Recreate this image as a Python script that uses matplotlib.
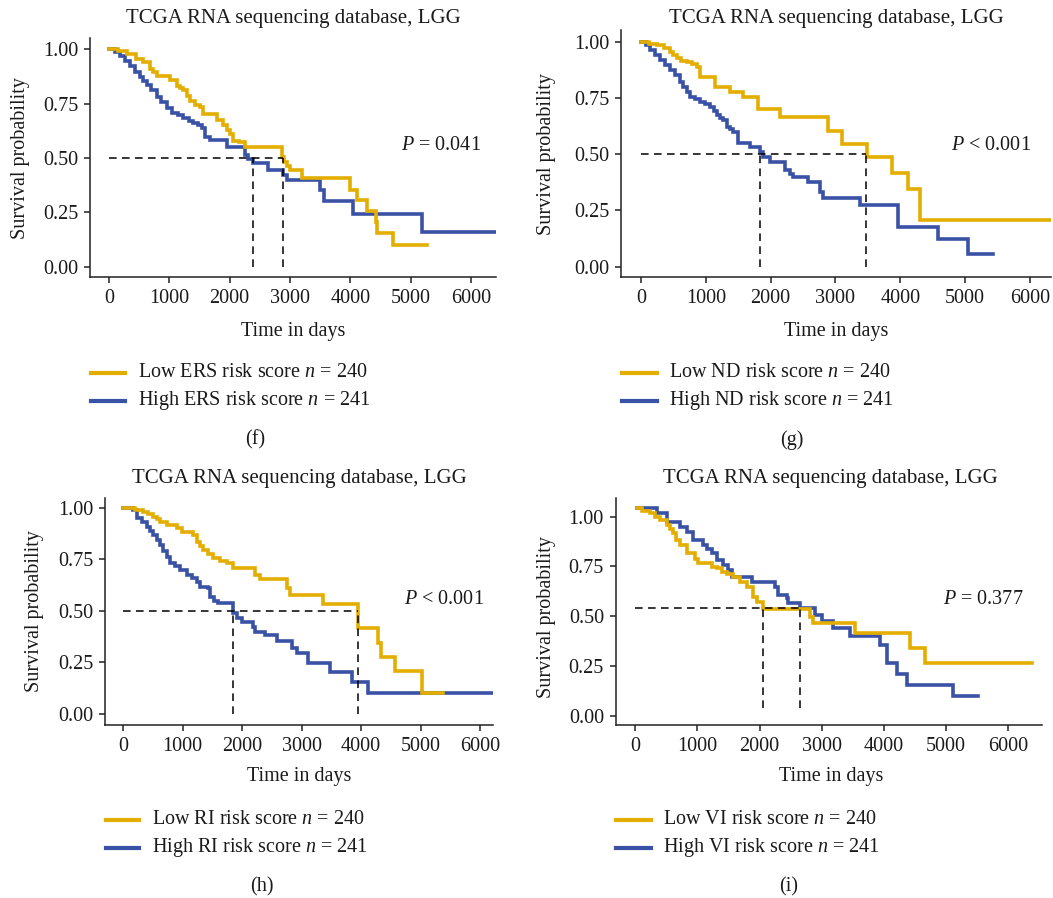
import matplotlib
matplotlib.use("Agg")
import matplotlib.pyplot as plt
from matplotlib.lines import Line2D

plt.rcParams['font.family'] = ['Liberation Serif', 'DejaVu Serif']
plt.rcParams['mathtext.fontset'] = 'custom'
plt.rcParams['mathtext.rm'] = 'Liberation Serif'
plt.rcParams['mathtext.it'] = 'Liberation Serif:italic'

YELLOW = '#E3AE00'
BLUE = '#3A52A5'
TXT = '#1a1a1a'

W, H = 1053, 898
FS = 14.5
FS_TITLE = 15

# ---------------- data ----------------
# panel (f) ERS
f_low_t = [0, 150, 300, 450, 570, 680, 735, 790, 1011, 1122, 1180, 1232, 1300, 1343, 1420, 1508, 1560, 1785, 1895, 1950, 2000, 2061, 2150, 2254, 2862, 2900, 2950, 3000, 3193, 3994, 4105, 4271, 4420, 4450, 4713, 5265]
f_low_s = [1.0, 0.99, 0.975, 0.955, 0.94, 0.91, 0.896, 0.876, 0.858, 0.83, 0.82, 0.81, 0.785, 0.76, 0.745, 0.735, 0.70, 0.675, 0.65, 0.63, 0.61, 0.58, 0.575, 0.552, 0.506, 0.48, 0.465, 0.445, 0.407, 0.353, 0.307, 0.257, 0.208, 0.154, 0.10, 0.10]
f_high_t = [0, 100, 182, 260, 348, 430, 514, 570, 624, 700, 790, 870, 956, 1039, 1140, 1232, 1320, 1398, 1470, 1536, 1591, 1674, 1950, 2254, 2300, 2392, 2641, 2890, 2950, 3497, 3564, 4050, 5182, 6453]
f_high_s = [1.0, 0.985, 0.97, 0.945, 0.92, 0.895, 0.873, 0.855, 0.835, 0.81, 0.78, 0.755, 0.728, 0.705, 0.695, 0.682, 0.672, 0.662, 0.65, 0.636, 0.598, 0.583, 0.552, 0.514, 0.495, 0.475, 0.445, 0.422, 0.40, 0.353, 0.304, 0.243, 0.162, 0.162]
f_medians = [2381, 2878]
f_median_level = 0.5
f_median_floor = 0.0

# panel (g) ND
g_low_t = [0, 120, 242, 350, 447, 500, 550, 620, 704, 780, 859, 910, 1141, 1373, 1578, 1810, 2144, 2889, 3095, 3481, 3866, 4123, 4303, 6308]
g_low_s = [1.0, 0.99, 0.985, 0.97, 0.955, 0.94, 0.926, 0.915, 0.91, 0.9, 0.889, 0.845, 0.80, 0.778, 0.756, 0.70, 0.667, 0.603, 0.545, 0.486, 0.418, 0.344, 0.207, 0.207]
g_high_t = [0, 70, 139, 220, 293, 370, 447, 520, 601, 650, 704, 756, 830, 910, 990, 1064, 1120, 1167, 1220, 1270, 1321, 1380, 1424, 1501, 1681, 1835, 1887, 1990, 2221, 2300, 2350, 2581, 2761, 2812, 3378, 3969, 4586, 5049, 5434]
g_high_s = [1.0, 0.985, 0.963, 0.94, 0.918, 0.895, 0.874, 0.85, 0.822, 0.80, 0.778, 0.756, 0.745, 0.733, 0.722, 0.711, 0.69, 0.674, 0.662, 0.652, 0.622, 0.61, 0.60, 0.548, 0.533, 0.511, 0.489, 0.467, 0.43, 0.41, 0.397, 0.378, 0.333, 0.304, 0.274, 0.178, 0.121, 0.056, 0.056]
g_medians = [1835, 3465]
g_median_level = 0.5
g_median_floor = 0.0

# panel (h) RI
h_low_t = [0, 200, 336, 420, 505, 560, 617, 729, 897, 981, 1178, 1234, 1290, 1346, 1430, 1514, 1620, 1738, 1851, 2215, 2299, 2748, 2804, 3365, 3953, 4290, 4329, 4570, 5030, 5383]
h_low_s = [1.0, 0.99, 0.98, 0.97, 0.956, 0.945, 0.932, 0.916, 0.90, 0.884, 0.868, 0.835, 0.815, 0.795, 0.775, 0.754, 0.74, 0.73, 0.706, 0.674, 0.653, 0.609, 0.577, 0.531, 0.415, 0.342, 0.275, 0.208, 0.10, 0.10]
h_high_t = [0, 168, 224, 310, 393, 450, 505, 560, 617, 670, 729, 785, 870, 953, 1065, 1150, 1234, 1290, 1430, 1458, 1530, 1598, 1851, 1920, 1991, 2187, 2210, 2383, 2579, 2832, 2916, 3112, 3477, 3852, 4110, 6253]
h_high_s = [1.0, 0.989, 0.948, 0.928, 0.908, 0.888, 0.868, 0.845, 0.819, 0.79, 0.763, 0.73, 0.715, 0.698, 0.674, 0.657, 0.641, 0.617, 0.609, 0.569, 0.55, 0.536, 0.488, 0.465, 0.444, 0.423, 0.399, 0.383, 0.354, 0.318, 0.294, 0.249, 0.202, 0.157, 0.10, 0.10]
h_medians = [1851, 3953]
h_median_level = 0.5
h_median_floor = 0.0

# panel (i) VI
i_low_t = [30, 100, 236, 320, 397, 504, 560, 611, 660, 718, 826, 960, 1013, 1228, 1308, 1400, 1469, 1576, 1684, 1791, 1898, 1952, 2059, 2810, 2863, 3534, 4418, 4660, 6375]
i_low_s = [1.042, 1.03, 1.017, 1.0, 0.983, 0.958, 0.94, 0.916, 0.885, 0.858, 0.816, 0.79, 0.766, 0.749, 0.74, 0.724, 0.71, 0.699, 0.674, 0.649, 0.599, 0.574, 0.535, 0.498, 0.465, 0.415, 0.339, 0.268, 0.268]
i_high_t = [30, 343, 504, 718, 826, 933, 1094, 1147, 1228, 1308, 1415, 1496, 1550, 1871, 2247, 2300, 2434, 2460, 2649, 2890, 2997, 3185, 3453, 3936, 4043, 4204, 4365, 5115, 5517]
i_high_s = [1.042, 1.017, 0.975, 0.95, 0.925, 0.883, 0.858, 0.84, 0.816, 0.783, 0.757, 0.732, 0.699, 0.674, 0.649, 0.607, 0.59, 0.569, 0.54, 0.507, 0.477, 0.44, 0.401, 0.356, 0.268, 0.209, 0.156, 0.10, 0.10]
i_medians = [2048, 2649]
i_median_level = 0.543
i_median_floor = 0.042

titles = ["TCGA RNA sequencing database, LGG"] * 4
groups = ["ERS", "ND", "RI", "VI"]
n_low, n_high = 240, 241
pvals = [r"$P$ = 0.041", r"$P$ < 0.001", r"$P$ < 0.001", r"$P$ = 0.377"]
panel_tags = ["(f)", "(g)", "(h)", "(i)"]
xticks = [0, 1000, 2000, 3000, 4000, 5000, 6000]
yticks = [0.0, 0.25, 0.5, 0.75, 1.0]
ytick_labels = ["0.00", "0.25", "0.50", "0.75", "1.00"]

# ---------------- layout (pixels) ----------------
panels = [
    dict(low=(f_low_t, f_low_s), high=(f_high_t, f_high_s), med=f_medians, lvl=f_median_level, floor=f_median_floor,
         box=(90, 38, 495.7, 277), xlim=(-315, 6410), ylim=(-0.0459, 1.0505),
         title=(293.3, 18.3), ylab=(21, 158.5), xlab=(293, 331.7), pv=(441, 145.7),
         leg=(90.7, 125, 137.7, 372.7, 400.7), tag=(255, 440)),
    dict(low=(g_low_t, g_low_s), high=(g_high_t, g_high_s), med=g_medians, lvl=g_median_level, floor=g_median_floor,
         box=(621, 30, 1050.7, 277), xlim=(-308.5, 6320), ylim=(-0.046, 1.052),
         title=(836.7, 18.3), ylab=(546, 154), xlab=(836.5, 331.7), pv=(991, 145.7),
         leg=(622.3, 656.7, 669, 372.7, 400.7), tag=(792, 440)),
    dict(low=(h_low_t, h_low_s), high=(h_high_t, h_high_s), med=h_medians, lvl=h_median_level, floor=h_median_floor,
         box=(105, 497.7, 492.7, 725), xlim=(-308, 6214), ylim=(-0.053, 1.048),
         title=(299.2, 478.3), ylab=(35, 610.8), xlab=(299, 777), pv=(444, 600),
         leg=(105.7, 139.3, 152.3, 820, 847.7), tag=(261.7, 886.7)),
    dict(low=(i_low_t, i_low_s), high=(i_high_t, i_high_s), med=i_medians, lvl=i_median_level, floor=i_median_floor,
         box=(615.7, 498.3, 1041.7, 725), xlim=(-315, 6537), ylim=(-0.045, 1.092),
         title=(830.8, 478.3), ylab=(546, 616.7), xlab=(830.7, 777), pv=(983, 600),
         leg=(616, 650.7, 663.3, 820, 847.7), tag=(788.3, 886.7)),
]

fig = plt.figure(figsize=(W / 100, H / 100), dpi=100)


def fx(px):
    return px / W


def fy(py):
    return 1 - py / H


for k, p in enumerate(panels):
    l, t, r, b = p['box']
    ax = fig.add_axes([fx(l), fy(b), (r - l) / W, (b - t) / H])
    lo_t, lo_s = p['low']
    hi_t, hi_s = p['high']
    ax.step(hi_t, hi_s, where='post', color=BLUE, lw=2.6, solid_joinstyle='miter', zorder=3)
    ax.step(lo_t, lo_s, where='post', color=YELLOW, lw=2.6, solid_joinstyle='miter', zorder=3)
    # median lines
    ax.plot([0, max(p['med'])], [p['lvl'], p['lvl']], color='black', lw=1.1, ls=(0, (5, 3.5)), zorder=4)
    for m in p['med']:
        ax.plot([m, m], [p['floor'], p['lvl']], color='black', lw=1.1, ls=(0, (5, 3.5)), zorder=4)
    ax.set_xlim(*p['xlim'])
    ax.set_ylim(*p['ylim'])
    ax.set_xticks(xticks)
    ax.set_xticklabels([str(v) for v in xticks])
    ax.set_yticks(yticks)
    ax.set_yticklabels(ytick_labels)
    for s in ['top', 'right']:
        ax.spines[s].set_visible(False)
    for s in ['left', 'bottom']:
        ax.spines[s].set_linewidth(1.1)
        ax.spines[s].set_color('#222222')
    ax.tick_params(axis='both', labelsize=FS, colors='#222222', labelcolor=TXT, width=1.1, length=4.5, pad=4)
    ax.patch.set_alpha(0)

    fig.text(fx(p['title'][0]), fy(p['title'][1]), titles[k], ha='center', va='center', fontsize=FS_TITLE, color=TXT)
    fig.text(fx(p['ylab'][0]), fy(p['ylab'][1]), "Survival probability", rotation=90, ha='center', va='center',
             fontsize=FS, color=TXT)
    fig.text(fx(p['xlab'][0]), fy(p['xlab'][1]), "Time in days", ha='center', va='center', fontsize=FS, color=TXT)
    fig.text(fx(p['pv'][0]), fy(p['pv'][1]), pvals[k], ha='center', va='center', fontsize=FS, color=TXT)
    x0, x1, xt, y1, y2 = p['leg']
    fig.add_artist(Line2D([fx(x0), fx(x1)], [fy(y1), fy(y1)], color=YELLOW, lw=3.0, transform=fig.transFigure))
    fig.add_artist(Line2D([fx(x0), fx(x1)], [fy(y2), fy(y2)], color=BLUE, lw=3.0, transform=fig.transFigure))
    fig.text(fx(xt), fy(y1), f"Low {groups[k]} risk score $n$ = {n_low}", ha='left', va='center', fontsize=FS,
             color=TXT)
    fig.text(fx(xt), fy(y2), f"High {groups[k]} risk score $n$ = {n_high}", ha='left', va='center', fontsize=FS,
             color=TXT)
    fig.text(fx(p['tag'][0]), fy(p['tag'][1]), panel_tags[k], ha='center', va='center', fontsize=FS, color=TXT)

fig.savefig("out.png", dpi=100)
